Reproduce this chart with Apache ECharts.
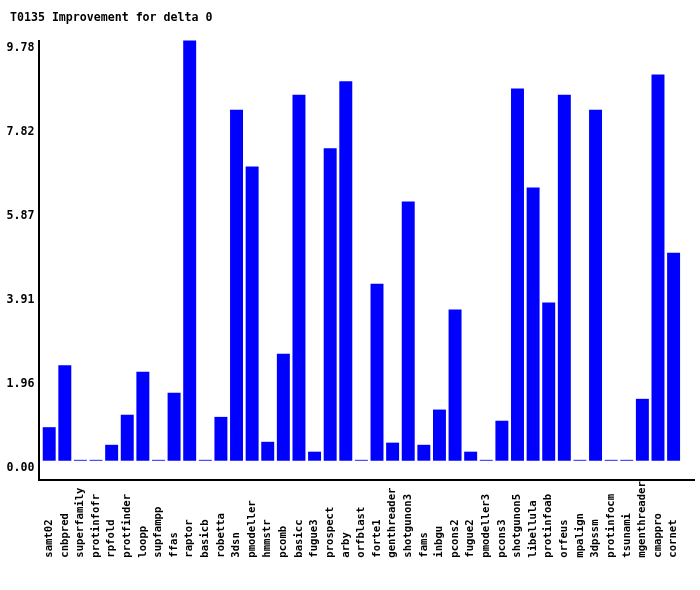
<!DOCTYPE html>
<html>
<head>
<meta charset="utf-8">
<script src="https://cdn.jsdelivr.net/npm/echarts@6/dist/echarts.min.js"></script>
<style>
html,body{margin:0;padding:0;background:#fff;}
#chart{width:700px;height:590px;}
</style>
</head>
<body>
<div id="chart"></div>
<script>
var titleText = 'T0135 Improvement for delta 0';
var categories = ['samt02','cnbpred','superfamily','protinfofr','rpfold','protfinder','loopp','supfampp','ffas','raptor','basicb','robetta','3dsn','pmodeller','hmmstr','pcomb','basicc','fugue3','prospect','arby','orfblast','forte1','genthreader','shotgunon3','fams','inbgu','pcons2','fugue2','pmodeller3','pcons3','shotgunon5','libellula','protinfoab','orfeus','mpalign','3dpssm','protinfocm','tsunami','mgenthreader','cmappro','cornet'];
var values = [0.78,2.22,0.02,0.02,0.37,1.07,2.07,0.02,1.58,9.78,0.02,1.02,8.17,6.85,0.44,2.49,8.52,0.21,7.27,8.83,0.02,4.12,0.42,6.03,0.37,1.19,3.52,0.21,0.02,0.93,8.66,6.36,3.68,8.52,0.02,8.17,0.02,0.02,1.44,8.99,4.84];
var yMax = 9.78;
var yStep = 1.956;

var FONT = '"DejaVu Sans Mono", monospace';
var chart = echarts.init(document.getElementById('chart'), null, {renderer: 'canvas'});
chart.setOption({
  animation: false,
  backgroundColor: '#ffffff',
  title: {
    text: titleText, left: 5, top: 7,
    textStyle: {fontFamily: FONT, fontWeight: 'bold', fontSize: 11.6, color: '#000'}
  },
  grid: {left: 41.4, right: 18.6, top: 40.5, bottom: 129.3, containLabel: false},
  xAxis: {
    type: 'category', data: categories,
    axisLine: {show: false}, axisTick: {show: false}, splitLine: {show: false},
    axisLabel: {
      interval: 0, rotate: 90, margin: 97, align: 'left', verticalAlign: 'middle',
      fontFamily: FONT, fontWeight: 'bold', fontSize: 10.6, color: '#000'
    }
  },
  yAxis: {
    type: 'value', min: 0, max: yMax, interval: yStep,
    axisLine: {show: false}, axisTick: {show: false}, splitLine: {show: false},
    axisLabel: {
      margin: 7, verticalAlign: 'top', lineHeight: 15,
      fontFamily: FONT, fontWeight: 'bold', fontSize: 11.6, color: '#000',
      formatter: function (v) { return v.toFixed(2); }
    }
  },
  graphic: [
    {type: 'rect', shape: {x: 38, y: 40, width: 2, height: 441}, style: {fill: '#000'}, silent: true},
    {type: 'rect', shape: {x: 38, y: 479, width: 657, height: 2}, style: {fill: '#000'}, silent: true}
  ],
  series: [{
    type: 'bar', data: values, barCategoryGap: '17%',
    itemStyle: {color: '#0000ff'}
  }]
});
</script>
</body>
</html>
